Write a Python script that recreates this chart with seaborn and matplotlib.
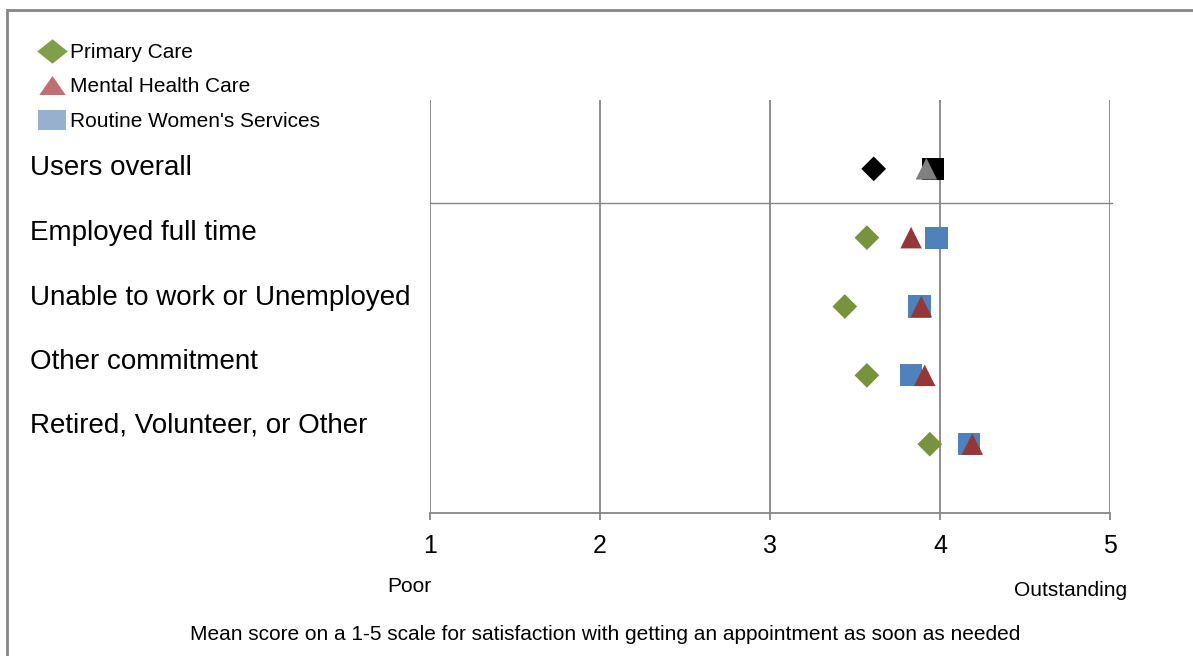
import matplotlib
matplotlib.use("Agg")
import matplotlib.pyplot as plt
from matplotlib.lines import Line2D
from matplotlib.patches import Rectangle
from matplotlib.path import Path
import seaborn as sns
import pandas as pd

# Groups, top to bottom
groups = ["Users overall", "Employed full time", "Unable to work or Unemployed",
          "Other commitment", "Retired, Volunteer, or Other"]
row_pos = [5, 4, 3, 2, 1]

# Mean satisfaction scores (1-5) per service
primary_care = [3.61, 3.57, 3.44, 3.57, 3.94]
mental_health = [3.92, 3.83, 3.89, 3.91, 4.19]
womens_services = [3.96, 3.98, 3.88, 3.83, 4.17]

series_names = ["Primary Care", "Mental Health Care", "Routine Women's Services"]
x_ticks = [1, 2, 3, 4, 5]

sns.set_theme(style="white")
plt.rcParams["font.family"] = ["Liberation Sans", "DejaVu Sans"]
plt.rcParams["text.color"] = "black"

fig = plt.figure(figsize=(11.93, 6.56), dpi=100)
ax = fig.add_axes([430 / 1193, 1 - 513 / 656, 680 / 1193, 413 / 656])

df = pd.DataFrame({"group": groups, "y": row_pos, "primary": primary_care,
                   "mental": mental_health, "women": womens_services})
overall = df.iloc[:1]
subgroups = df.iloc[1:]

diamond_s = 12.6 ** 2
square_s = 16.0 ** 2
triangle_s = 15.5 ** 2

# subgroup rows
sns.scatterplot(data=subgroups, x="primary", y="y", marker="D", s=diamond_s,
                color="#77933C", edgecolor="none", ax=ax, zorder=3)
sns.scatterplot(data=subgroups, x="women", y="y", marker="s", s=square_s,
                color="#4F81BD", edgecolor="none", ax=ax, zorder=4)
sns.scatterplot(data=subgroups, x="mental", y="y", marker="^", s=triangle_s,
                color="#953735", edgecolor="none", ax=ax, zorder=5)

# overall row
sns.scatterplot(data=overall, x="primary", y="y", marker="D", s=diamond_s,
                color="black", edgecolor="none", ax=ax, zorder=3)
sns.scatterplot(data=overall, x="women", y="y", marker="s", s=square_s,
                color="black", edgecolor="none", ax=ax, zorder=4)
sns.scatterplot(data=overall, x="mental", y="y", marker="^", s=triangle_s,
                color="#808080", edgecolor="none", ax=ax, zorder=5)

ax.set_xlim(1, 5)
ax.set_ylim(0, 6)
ax.set_xticks(x_ticks)
ax.set_xticklabels([str(t) for t in x_ticks], fontsize=18)
ax.set_yticks([])
ax.set_xlabel("")
ax.set_ylabel("")
for t in x_ticks:
    ax.axvline(t, color="#868686", lw=1.3, zorder=1)
ax.axhline(4.5, xmin=0, xmax=1.003, color="#868686", lw=1.0, zorder=1, clip_on=False)
for side in ["top", "right", "left"]:
    ax.spines[side].set_visible(False)
ax.spines["bottom"].set_color("#868686")
ax.spines["bottom"].set_linewidth(1.3)
ax.tick_params(axis="x", bottom=True, length=5, width=1.3, color="#868686",
               pad=10, labelcolor="black")

# group labels
label_y = [168, 233, 298, 362, 426]
for name, py in zip(groups, label_y):
    fig.text(30 / 1193, 1 - py / 656, name, fontsize=20, ha="left", va="center")

# legend keys (slightly wide shapes)
diamond_key = Path([(-1, 0), (0, 0.8), (1, 0), (0, -0.8), (-1, 0)])
triangle_key = Path([(-1, -0.72), (1, -0.72), (0, 0.72), (-1, -0.72)])
square_key = Path([(-1, -0.75), (1, -0.75), (1, 0.75), (-1, 0.75), (-1, -0.75)])
handles = [
    Line2D([], [], marker=diamond_key, ls="none", markersize=22, color="#7F9F48", markeredgewidth=0),
    Line2D([], [], marker=triangle_key, ls="none", markersize=19, color="#C0716F", markeredgewidth=0),
    Line2D([], [], marker=square_key, ls="none", markersize=20, color="#97B0CD", markeredgewidth=0),
]
fig.legend(handles, series_names, loc="upper left", bbox_to_anchor=(39 / 1193, 1 - 43 / 656),
           frameon=False, fontsize=15, handlelength=1.2, handletextpad=0.28,
           labelspacing=0.74, borderpad=0, borderaxespad=0)

fig.text(409 / 1193, 1 - 586 / 656, "Poor", fontsize=15, ha="center", va="center")
fig.text(1071 / 1193, 1 - 591 / 656, "Outstanding", fontsize=15, ha="center", va="center")
fig.text(605 / 1193, 1 - 634 / 656,
         "Mean score on a 1-5 scale for satisfaction with getting an appointment as soon as needed",
         fontsize=15, ha="center", va="center")

# outer chart frame
fig.patches.append(Rectangle((7 / 1193, -0.1), 1.2, 1.1 - 10 / 656, transform=fig.transFigure,
                             fill=False, edgecolor="#868686", lw=2, zorder=0))

fig.savefig("out.png", dpi=100)
